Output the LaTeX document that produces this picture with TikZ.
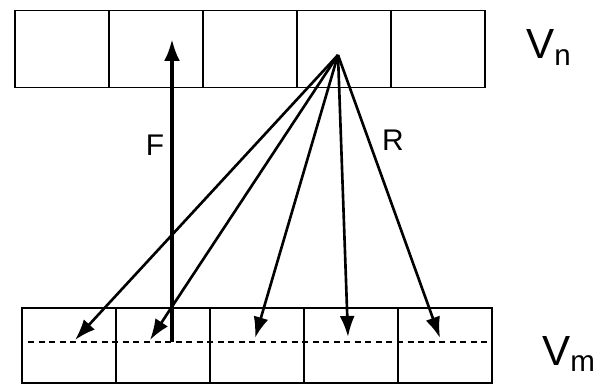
\documentclass[tikz,border=0pt]{standalone}
\usepackage{fontspec}
\setmainfont{Liberation Sans}
\usepackage{tikz}
\usetikzlibrary{arrows.meta, positioning, calc}
\tikzstyle{cell} = [rectangle, draw=black, fill=white, minimum width=1.88cm, minimum height=1.54cm, line width=1.1pt, inner sep=0pt, outer sep=0pt]
\tikzstyle{arrow} = [line width=1.5pt, -{Latex[length=4.2mm,width=3mm]}]
\tikzstyle{thickarrow} = [line width=2.2pt, -{Latex[length=4.4mm,width=3.2mm]}]
\tikzstyle{lbl} = [font=\fontsize{17}{20}\selectfont]

\begin{document}
\begin{tikzpicture}[node distance=0pt]
        \useasboundingbox (0,0) rectangle (12.04,-7.72);
        % V_n row
        \node [cell, anchor=west] (n1) at (0.3,-0.98) {};
        \node [cell, right=0pt of n1] (n2) {};
        \node [cell, right=0pt of n2] (n3) {};
        \node [cell, right=0pt of n3] (n4) {};
        \node [cell, right=0pt of n4] (n5) {};
        % V_m row
        \node [cell, anchor=west, minimum height=1.5cm] (m1) at (0.44,-6.91) {};
        \node [cell, right=0pt of m1, minimum height=1.5cm] (m2) {};
        \node [cell, right=0pt of m2, minimum height=1.5cm] (m3) {};
        \node [cell, right=0pt of m3, minimum height=1.5cm] (m4) {};
        \node [cell, right=0pt of m4, minimum height=1.5cm] (m5) {};

        \node [lbl, font=\fontsize{24}{28}\selectfont] (vn) at (10.98,-0.95) {V\textsubscript{n}};
        \node [lbl, font=\fontsize{24}{28}\selectfont] (vm) at (11.38,-7.08) {V\textsubscript{m}};

        % dashed line
        \coordinate (d1) at ($(m1.west)+(0.12,0.07)$);
        \coordinate (d2) at ($(m5.east)+(-0.1,0.07)$);
        \draw [dashed, line width=1.1pt, dash pattern=on 3.4pt off 2.6pt] (d1) -- (d2);

        % source and targets
        \coordinate (src) at (6.76,-1.1);
        \coordinate (t1) at (1.5,-6.8);
        \coordinate (t2) at (3.0,-6.8);
        \coordinate (t3) at (5.1,-6.76);
        \coordinate (t4) at (6.96,-6.74);
        \coordinate (t5) at (8.8,-6.76);
        \coordinate (fbot) at (3.44,-6.84);
        \coordinate (ftop) at (3.44,-0.78);

        % F
        \draw [thickarrow] (fbot) -- (ftop);
        \node [lbl] (f) at (3.1,-2.9) {F};

        % R
        \foreach \t in {t1,t2,t3,t4,t5}
            \draw [arrow] (src) -- (\t);
        \node [lbl] (r) at (7.86,-2.8) {R};
    \end{tikzpicture}
\end{document}
